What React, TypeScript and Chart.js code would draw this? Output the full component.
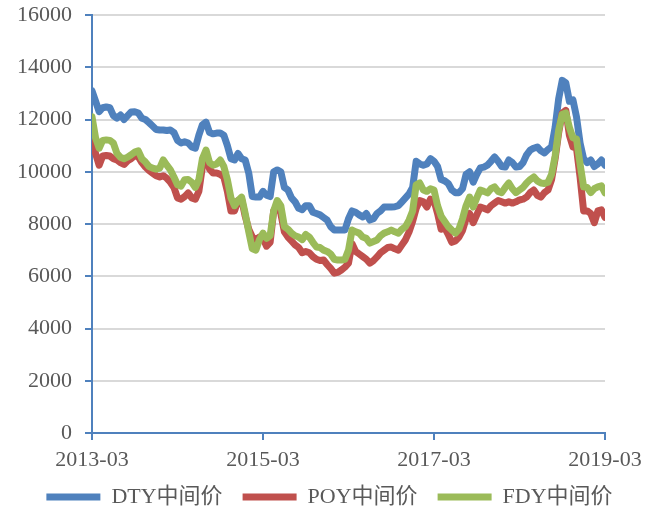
import { useEffect, useRef } from 'react';
import { Chart, registerables } from 'chart.js';

Chart.register(...registerables);

// half-month periods starting 2013-03 (index 0) to 2019-03 (index 144)
const xTickLabels = ['2013-03', '2015-03', '2017-03', '2019-03'];
const xTickIndex = [0, 48, 96, 144];
const seriesNames = ['DTY中间价', 'POY中间价', 'FDY中间价'];

const dty = [
  13100, 12700, 12300, 12450, 12480, 12450, 12150, 12050, 12170, 12000,
  12150, 12290, 12300, 12250, 12050, 12000, 11880, 11750, 11620, 11600,
  11600, 11580, 11600, 11500, 11200, 11100, 11150, 11100, 10950, 10900,
  11400, 11800, 11900, 11500, 11450, 11480, 11480, 11400, 11000, 10500,
  10450, 10700, 10500, 10450, 9950, 9050, 9030, 9030, 9250, 9100,
  9050, 10000, 10070, 10000, 9400, 9300, 9000, 8850, 8600, 8550,
  8700, 8700, 8450, 8400, 8350, 8250, 8150, 7900, 7770, 7770,
  7770, 7770, 8200, 8500, 8450, 8350, 8270, 8400, 8150, 8200,
  8400, 8500, 8650, 8650, 8650, 8660, 8700, 8850, 9000, 9150,
  9400, 10400, 10300, 10250, 10300, 10500, 10400, 10200, 9700, 9650,
  9550, 9300, 9200, 9200, 9350, 9900, 10000, 9600, 9900, 10150,
  10180, 10250, 10400, 10570, 10400, 10200, 10180, 10450, 10350, 10180,
  10200, 10350, 10650, 10830, 10900, 10950, 10800, 10720, 10850, 10950,
  11700, 12800, 13500, 13400, 12700, 12750, 12100, 11100, 10500, 10350,
  10450, 10200, 10300, 10450, 10250,
];

const poy = [
  11300, 10700, 10250, 10600, 10620, 10600, 10500, 10450, 10350, 10280,
  10420, 10500, 10620, 10580, 10350, 10180, 10050, 9950, 9850, 9800,
  9850, 9750, 9600, 9400, 9000, 8950, 9050, 9190, 9000, 8950,
  9250, 10200, 10650, 10100, 9950, 9950, 9900, 9800, 9250, 8500,
  8500, 8900, 8950, 8300, 7800, 7500, 7400, 7500, 7450, 7150,
  7300, 8500, 8750, 8400, 7700, 7500, 7350, 7200, 7100, 6900,
  6950, 6900, 6750, 6650, 6600, 6620, 6450, 6300, 6120, 6150,
  6240, 6350, 6500, 7250, 6950, 6850, 6750, 6650, 6500, 6600,
  6740, 6900, 7000, 7100, 7120, 7050, 7000, 7200, 7400, 7700,
  8100, 8600, 8900, 8850, 8650, 8950, 8900, 8400, 7800, 7850,
  7600, 7300, 7350, 7500, 7750, 8200, 8400, 8050, 8350, 8650,
  8600, 8540, 8700, 8800, 8900, 8850, 8800, 8850, 8800, 8850,
  8920, 8950, 9030, 9200, 9300, 9100, 9030, 9200, 9300, 9700,
  10500, 11500, 12250, 12350, 11400, 10950, 10900, 9800, 8500, 8500,
  8400, 8050, 8500, 8540, 8250,
];

const fdy = [
  12100, 11300, 10900, 11200, 11220, 11200, 11100, 10700, 10550, 10500,
  10560, 10650, 10750, 10800, 10500, 10370, 10200, 10140, 10100, 10140,
  10450, 10250, 10070, 9800, 9500, 9450, 9690, 9700, 9600, 9400,
  9700, 10500, 10830, 10350, 10250, 10300, 10450, 10200, 9700, 9000,
  8700, 8900, 9030, 8400, 7700, 7050, 7000, 7400, 7650, 7450,
  7550, 8500, 8900, 8700, 7900, 7800, 7650, 7550, 7500, 7400,
  7600, 7500, 7300, 7120, 7100, 7000, 6950, 6850, 6650, 6620,
  6620, 6650, 7000, 7770, 7700, 7650, 7500, 7450, 7270, 7330,
  7390, 7550, 7650, 7700, 7770, 7700, 7650, 7800, 7900, 8150,
  8500, 9500, 9570, 9300, 9250, 9350, 9300, 8700, 8300, 8100,
  7900, 7770, 7650, 7800, 8200, 8700, 9030, 8650, 9000, 9300,
  9250, 9190, 9350, 9420, 9250, 9200, 9400, 9570, 9350, 9200,
  9300, 9400, 9570, 9700, 9800, 9650, 9570, 9550, 9600, 9900,
  10600, 11600, 12200, 12250, 11700, 11300, 11250, 10300, 9420, 9400,
  9200, 9350, 9420, 9460, 9190,
];

const yMin = 0;
const yMax = 16000;
const yStep = 2000;

const BLUE = '#4F81BD';
const RED = '#C0504D';
const GREEN = '#9BBB59';
const TEXT = '#595959';
const GRID = '#D9D9D9';

export default function App() {
  const ref = useRef<HTMLCanvasElement>(null);

  useEffect(() => {
    if (!ref.current) return;
    const toPts = (arr: number[]) => arr.map((y, i) => ({ x: i, y }));
    const font = { family: "'Liberation Serif', 'Times New Roman', 'Noto Sans CJK SC', serif", size: 22 };
    const mk = (label: string, data: number[], color: string, order: number) => ({
      label,
      data: toPts(data),
      borderColor: color,
      backgroundColor: color,
      borderWidth: 7,
      borderCapStyle: 'round' as const,
      borderJoinStyle: 'round' as const,
      pointRadius: 0,
      tension: 0,
      order,
    });
    const chart = new Chart(ref.current, {
      type: 'line',
      data: {
        datasets: [
          mk(seriesNames[0], dty, BLUE, 3),
          mk(seriesNames[1], poy, RED, 2),
          mk(seriesNames[2], fdy, GREEN, 1),
        ],
      },
      options: {
        animation: false,
        responsive: false,
        maintainAspectRatio: false,
        layout: { padding: { top: 15, right: 0, left: 0, bottom: -6 } },
        plugins: {
          legend: {
            position: 'bottom',
            labels: {
              usePointStyle: true,
              pointStyle: 'line',
              pointStyleWidth: 54,
              padding: 20,
              color: TEXT,
              font,
              sort: (a: any, b: any) => a.datasetIndex - b.datasetIndex,
            },
          },
          tooltip: { enabled: false },
        },
        scales: {
          x: {
            type: 'linear',
            min: 0,
            max: 144,
            ticks: {
              stepSize: 48,
              autoSkip: false,
              maxRotation: 0,
              padding: 7,
              color: TEXT,
              font,
              callback: (v: any) => {
                const k = xTickIndex.indexOf(Number(v));
                return k >= 0 ? xTickLabels[k] : '';
              },
            },
            grid: { drawOnChartArea: false, tickLength: 7, tickColor: BLUE, lineWidth: 2 },
            border: { color: BLUE, width: 2 },
            afterFit: (s: any) => { s.height = 33; },
          },
          y: {
            min: yMin,
            max: yMax,
            ticks: { stepSize: yStep, padding: 13, color: TEXT, font, callback: (v: any) => String(v) },
            grid: { color: GRID, lineWidth: 2, tickLength: 7, tickColor: BLUE },
            border: { color: BLUE, width: 2 },
            afterFit: (s: any) => { s.width = 92; s.paddingTop = 0; s.paddingBottom = 0; },
          },
          yRight: {
            position: 'right',
            display: true,
            ticks: { display: false },
            grid: { display: false, drawTicks: false },
            border: { display: false },
            afterFit: (s: any) => { s.width = 54; s.paddingTop = 0; s.paddingBottom = 0; },
          },
        },
      } as any,
    });
    return () => chart.destroy();
  }, []);

  return (
    <div style={{ position: 'fixed', left: 0, top: 0, width: 659, height: 512, background: '#fff' }}>
      <canvas ref={ref} width={659} height={512} />
    </div>
  );
}
